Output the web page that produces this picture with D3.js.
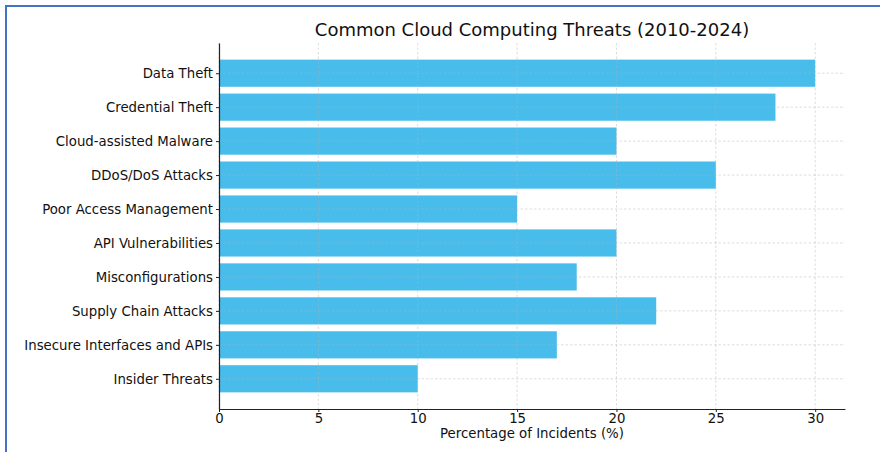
<!DOCTYPE html>
<html>
<head>
<meta charset="utf-8">
<script src="https://cdn.jsdelivr.net/npm/d3@7"></script>
<style>
  body { margin: 0; background: #fff; }
  svg { display: block; font-family: "DejaVu Sans", sans-serif; }
</style>
</head>
<body>
<div id="chart"></div>
<script>
var svg_width = 880;
var svg_height = 452;
var margin = ({top: 43, right: 35, bottom: 43, left: 219});

// top to bottom, as drawn
var threats = ["Data Theft", "Credential Theft", "Cloud-assisted Malware", "DDoS/DoS Attacks",
  "Poor Access Management", "API Vulnerabilities", "Misconfigurations", "Supply Chain Attacks",
  "Insecure Interfaces and APIs", "Insider Threats"];
var percents = [30, 28, 20, 25, 15, 20, 18, 22, 17, 10];
var x_ticks = [0, 5, 10, 15, 20, 25, 30];

var data = threats.map((t, i) => ({name: t, value: percents[i]}));

var x = d3.scaleLinear()
    .domain([0, d3.max(percents) * 1.05])
    .range([margin.left, svg_width - margin.right]);

// matplotlib-style category spacing: bar 0.8 wide, 5% margins
var n = threats.length;
var y = d3.scaleLinear()
    .domain([-0.89, n - 1 + 0.89])
    .range([margin.top, svg_height - margin.bottom]);
var step = y(1) - y(0);

const svg = d3.select("#chart")
    .append("svg")
    .attr("width", svg_width)
    .attr("height", svg_height);

// frame (left + top edges visible)
svg.append("path")
    .attr("d", `M6,${svg_height} V6 H${svg_width}`)
    .attr("fill", "none")
    .attr("stroke", "#4472c4")
    .attr("stroke-width", 2);

svg.append("g")
    .selectAll("rect")
    .data(data)
    .join("rect")
      .attr("x", x(0))
      .attr("y", (d, i) => y(i) - step * 0.4)
      .attr("width", d => x(d.value) - x(0))
      .attr("height", step * 0.8)
      .attr("fill", "#48bdec");

// grid, on top of the bars
var grid = svg.append("g")
    .attr("stroke", "#b0b0b0")
    .attr("stroke-opacity", 0.55)
    .attr("stroke-width", 0.8)
    .attr("stroke-dasharray", "2.5,2");
grid.selectAll("line.v")
    .data(x_ticks)
    .join("line")
      .attr("class", "v")
      .attr("x1", d => x(d)).attr("x2", d => x(d))
      .attr("y1", margin.top).attr("y2", svg_height - margin.bottom);
grid.selectAll("line.h")
    .data(threats)
    .join("line")
      .attr("class", "h")
      .attr("x1", margin.left).attr("x2", svg_width - margin.right)
      .attr("y1", (d, i) => y(i)).attr("y2", (d, i) => y(i));

var font_size = "13.3px";

var xAxis = g => g
    .attr("transform", `translate(0,${svg_height - margin.bottom})`)
    .call(d3.axisBottom(x).tickValues(x_ticks).tickSize(3).tickPadding(2).tickSizeOuter(0))
    .call(g => g.select(".domain").attr("stroke", "#222").attr("stroke-width", 1.2))
    .call(g => g.selectAll(".tick line").attr("stroke", "#222"))
    .call(g => g.selectAll("text").attr("font-size", font_size).attr("fill", "#111").attr("font-family", "DejaVu Sans"));

var yAxis = g => g
    .attr("transform", `translate(${margin.left},0)`)
    .call(d3.axisLeft(y).tickValues(d3.range(n)).tickFormat(i => threats[i]).tickSize(3).tickPadding(3).tickSizeOuter(0))
    .call(g => g.select(".domain").attr("stroke", "#222").attr("stroke-width", 1.2))
    .call(g => g.selectAll(".tick line").attr("stroke", "#222"))
    .call(g => g.selectAll("text").attr("font-size", font_size).attr("fill", "#111").attr("font-family", "DejaVu Sans"));

svg.append("g").call(xAxis);
svg.append("g").call(yAxis);

svg.append("text")
    .attr("x", (margin.left + svg_width - margin.right) / 2)
    .attr("y", 437.5)
    .attr("text-anchor", "middle")
    .attr("font-size", font_size)
    .attr("fill", "#111")
    .text("Percentage of Incidents (%)");

svg.append("text")
    .attr("x", (margin.left + svg_width - margin.right) / 2)
    .attr("y", 36)
    .attr("text-anchor", "middle")
    .attr("font-size", "18px")
    .attr("fill", "#111")
    .text("Common Cloud Computing Threats (2010-2024)");
</script>
</body>
</html>
